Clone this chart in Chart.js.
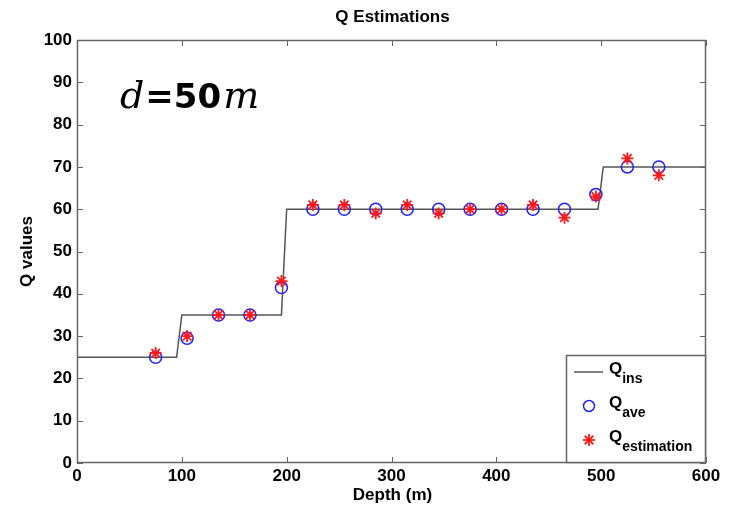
<!DOCTYPE html>
<html>
<head>
<meta charset="utf-8">
<script src="https://cdn.jsdelivr.net/npm/chart.js@4.4.1/dist/chart.umd.min.js"></script>
<style>
  html, body { margin: 0; padding: 0; background: #fff; }
  #wrap { width: 731px; height: 510px; position: relative; }
</style>
</head>
<body>
<div id="wrap"><canvas id="chart" width="731" height="510"></canvas></div>
<script>
// step model Q_ins (depth, Q)
const insDepth = [0, 95, 100, 195, 200, 497, 502, 600];
const insQ = [25, 25, 35, 35, 60, 60, 70, 70];

// sample depths and estimates
const depths = [75, 105, 135, 165, 195, 225, 255, 285, 315, 345, 375, 405, 435, 465, 495, 525, 555];
const qAve = [25, 29.5, 35, 35, 41.5, 60, 60, 60, 60, 60, 60, 60, 60, 60, 63.5, 70, 70];
const qEst = [26, 30, 35, 35, 43, 61, 61, 59, 61, 59, 60, 60, 61, 58, 63, 72, 68];

const xTicks = [0, 100, 200, 300, 400, 500, 600];
const yTicks = [0, 10, 20, 30, 40, 50, 60, 70, 80, 90, 100];

const FONT = 'Liberation Sans, Arial, sans-serif';

const pts = (xs, ys) => xs.map((x, i) => ({ x, y: ys[i] }));

// matlab-ish frame: box, inward ticks, titles, note, legend
const framePlugin = {
  id: 'frame',
  afterDraw(chart) {
    const { ctx, chartArea: a, scales } = chart;
    ctx.save();
    ctx.strokeStyle = '#666';
    ctx.lineWidth = 1.5;
    ctx.strokeRect(a.left + 0.5, a.top + 0.5, a.right - a.left - 1, a.bottom - a.top - 1);
    ctx.lineWidth = 1;
    xTicks.forEach((v) => {
      const x = Math.round(scales.x.getPixelForValue(v)) + 0.5;
      ctx.beginPath();
      ctx.moveTo(x, a.bottom); ctx.lineTo(x, a.bottom - 6);
      ctx.moveTo(x, a.top); ctx.lineTo(x, a.top + 6);
      ctx.stroke();
    });
    yTicks.forEach((v) => {
      const y = Math.round(scales.y.getPixelForValue(v)) + 0.5;
      ctx.beginPath();
      ctx.moveTo(a.left, y); ctx.lineTo(a.left + 6, y);
      ctx.moveTo(a.right, y); ctx.lineTo(a.right - 6, y);
      ctx.stroke();
    });

    // titles
    ctx.fillStyle = '#000';
    ctx.textAlign = 'center';
    ctx.textBaseline = 'middle';
    ctx.font = 'bold 17px ' + FONT;
    ctx.fillText('Q Estimations', (a.left + a.right) / 2 + 1, 17);
    ctx.fillText('Depth (m)', (a.left + a.right) / 2 + 1, 495);
    ctx.save();
    ctx.translate(27, (a.top + a.bottom) / 2);
    ctx.rotate(-Math.PI / 2);
    ctx.fillText('Q values', 0, 0);
    ctx.restore();

    // d=50m note
    ctx.textAlign = 'left';
    ctx.textBaseline = 'alphabetic';
    let nx = 120;
    const ny = 108;
    ctx.font = 'italic 38px "DejaVu Serif", serif';
    ctx.fillText('d', nx, ny);
    nx += ctx.measureText('d').width + 1;
    ctx.font = 'bold 34px "DejaVu Sans", ' + FONT;
    ctx.fillText('=50', nx, ny);
    nx += ctx.measureText('=50').width + 2;
    ctx.font = 'italic 38px "DejaVu Serif", serif';
    ctx.fillText('m', nx, ny);

    // legend box
    const lx = 566, ly = 355, lw = 139, lh = 107;
    ctx.fillStyle = '#fff';
    ctx.fillRect(lx, ly, lw, lh);
    ctx.strokeStyle = '#666';
    ctx.lineWidth = 1.5;
    ctx.strokeRect(lx + 0.5, ly + 0.5, lw, lh);
    const rows = [
      { sub: 'ins', y: 372 },
      { sub: 'ave', y: 406 },
      { sub: 'estimation', y: 440 },
    ];
    // line sample
    ctx.strokeStyle = '#555';
    ctx.lineWidth = 1.5;
    ctx.beginPath(); ctx.moveTo(574, 372); ctx.lineTo(603, 372); ctx.stroke();
    // circle sample
    ctx.strokeStyle = '#1f1fff';
    ctx.beginPath(); ctx.arc(589, 406, 5.5, 0, Math.PI * 2); ctx.stroke();
    // star sample
    ctx.strokeStyle = '#ff1a1a';
    ctx.lineWidth = 1.8;
    for (let k = 0; k < 4; k++) {
      const ang = k * Math.PI / 4;
      ctx.beginPath();
      ctx.moveTo(589 - 6 * Math.cos(ang), 440 - 6 * Math.sin(ang));
      ctx.lineTo(589 + 6 * Math.cos(ang), 440 + 6 * Math.sin(ang));
      ctx.stroke();
    }
    ctx.fillStyle = '#000';
    rows.forEach((r) => {
      ctx.font = 'bold 17px ' + FONT;
      ctx.fillText('Q', 609, r.y + 2);
      const w = ctx.measureText('Q').width;
      ctx.font = 'bold 14px ' + FONT;
      ctx.fillText(r.sub, 609 + w, r.y + 11);
    });
    ctx.restore();
  },
};

new Chart(document.getElementById('chart'), {
  type: 'scatter',
  data: {
    datasets: [
      {
        label: 'Q_ins',
        type: 'line',
        data: pts(insDepth, insQ),
        borderColor: '#555',
        borderWidth: 1.5,
        pointRadius: 0,
        tension: 0,
        order: 3,
      },
      {
        label: 'Q_ave',
        data: pts(depths, qAve),
        pointStyle: 'circle',
        pointRadius: 6,
        backgroundColor: 'rgba(0,0,0,0)',
        borderColor: '#1f1fff',
        borderWidth: 1.5,
        order: 2,
      },
      {
        label: 'Q_estimation',
        data: pts(depths, qEst),
        pointStyle: 'star',
        pointRadius: 6,
        borderColor: '#ff1a1a',
        backgroundColor: '#ff1a1a',
        borderWidth: 1.8,
        order: 1,
      },
    ],
  },
  options: {
    responsive: false,
    animation: false,
    layout: { padding: { top: 40, right: 25, left: 0, bottom: 0 } },
    plugins: { legend: { display: false }, tooltip: { enabled: false }, title: { display: false } },
    scales: {
      x: {
        type: 'linear',
        min: 0, max: 600,
        afterBuildTicks: (s) => { s.ticks = xTicks.map((v) => ({ value: v })); },
        afterFit: (s) => { s.height = 47; },
        grid: { display: false, drawTicks: false },
        border: { display: false },
        ticks: { color: '#000', padding: 3, font: { family: FONT, size: 17, weight: 'bold' } },
      },
      y: {
        type: 'linear',
        min: 0, max: 100,
        afterBuildTicks: (s) => { s.ticks = yTicks.map((v) => ({ value: v })); },
        afterFit: (s) => { s.width = 77; },
        grid: { display: false, drawTicks: false },
        border: { display: false },
        ticks: { color: '#000', padding: 5, font: { family: FONT, size: 17, weight: 'bold' } },
      },
    },
  },
  plugins: [framePlugin],
});
</script>
</body>
</html>
